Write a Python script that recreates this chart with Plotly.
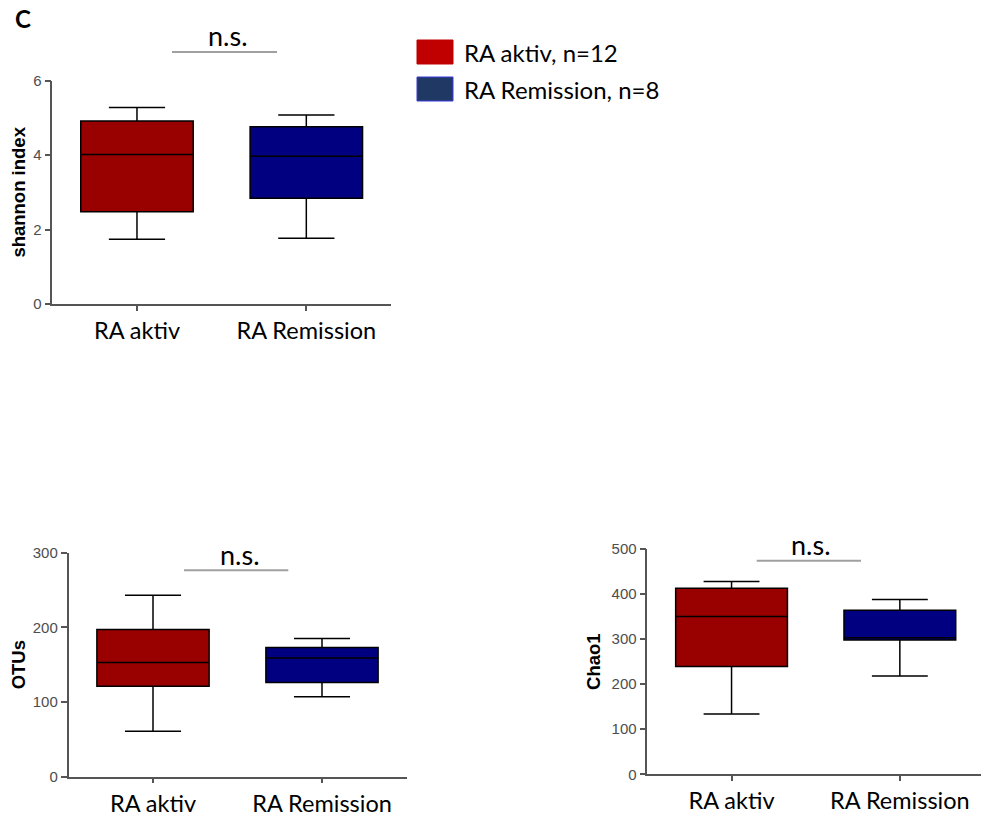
import plotly.graph_objects as go

# ---------------- data ----------------
categories = ["RA aktiv", "RA Remission"]
box_colors = ["#990000", "#000080"]

shannon_lower = [1.74, 1.77]
shannon_q1 = [2.48, 2.84]
shannon_median = [4.02, 3.97]
shannon_q3 = [4.92, 4.76]
shannon_upper = [5.28, 5.08]

otus_lower = [61, 107]
otus_q1 = [121, 126]
otus_median = [153, 159]
otus_q3 = [197, 173]
otus_upper = [243, 185]

chao1_lower = [134, 218]
chao1_q1 = [239, 298]
chao1_median = [350, 303]
chao1_q3 = [413, 364]
chao1_upper = [428, 388]

legend_labels = ["RA aktiv, n=12", "RA Remission, n=8"]
legend_colors = ["#C00000", "#203864"]
legend_borders = ["#C00000", "#3B3BD9"]

panels = [
    # (axis suffix, title, lower, q1, median, q3, upper, ymax, dtick)
    ("", "shannon index", shannon_lower, shannon_q1, shannon_median, shannon_q3, shannon_upper, 6, 2),
    ("2", "OTUs", otus_lower, otus_q1, otus_median, otus_q3, otus_upper, 300, 100),
    ("3", "Chao1", chao1_lower, chao1_q1, chao1_median, chao1_q3, chao1_upper, 500, 100),
]

W, H = 989, 818
OFF = 8  # page body margin offset of the figure in the browser window
SANS = "Liberation Sans, Arial, sans-serif"
HUMAN = "Lato, Open Sans, sans-serif"
AXC = "#555555"

fig = go.Figure()

for suf, title, lo, q1, med, q3, up, ymax, dt in panels:
    for i, cat in enumerate(categories):
        fig.add_trace(go.Box(
            x=[cat], lowerfence=[lo[i]], q1=[q1[i]], median=[med[i]],
            q3=[q3[i]], upperfence=[up[i]],
            fillcolor=box_colors[i], line=dict(color="black", width=1.5),
            width=0.664, whiskerwidth=0.5, boxpoints=False,
            showlegend=False, xaxis="x" + suf, yaxis="y" + suf,
        ))

# window-pixel positions -> paper fractions
def fx(a):
    return (a - OFF) / W

def fy(a):
    return (H - (a - OFF)) / H

domains = {
    "": ([fx(52.3), fx(391)], [fy(304), fy(80.7)]),
    "2": ([fx(68.5), fx(406.5)], [fy(776.7), fy(552.7)]),
    "3": ([fx(647.4), fx(984)], [fy(774.3), fy(549)]),
}

layout = dict(
    width=W, height=H, margin=dict(l=0, r=0, t=0, b=0, autoexpand=False),
    paper_bgcolor="white", plot_bgcolor="white",
    showlegend=False, boxmode="overlay",
)

for suf, title, lo, q1, med, q3, up, ymax, dt in panels:
    dx, dy = domains[suf]
    layout["xaxis" + suf] = dict(
        domain=dx, anchor="y" + suf, type="category", automargin=False,
        categoryorder="array", categoryarray=categories,
        range=[-0.5, 1.5], showline=True, linecolor=AXC, linewidth=1.5,
        ticks="outside", ticklen=5, tickwidth=1.5, tickcolor=AXC,
        showgrid=False, zeroline=False, ticklabelstandoff=0,
        tickfont=dict(family=HUMAN, size=23.5, color="black"),
    )
    layout["yaxis" + suf] = dict(
        domain=dy, anchor="x" + suf, range=[0, ymax], dtick=dt, tick0=0,
        automargin=False,
        showline=True, linecolor=AXC, linewidth=1.5,
        ticks="outside", ticklen=6, tickwidth=1.5, tickcolor=AXC,
        showgrid=False, zeroline=False,
        tickfont=dict(family=SANS, size=15, color="#4d4d4d"),
        title=dict(text=title, standoff=6,
                   font=dict(family=SANS, size=18.5, color="black", weight="bold")),
    )

fig.update_layout(**layout)

# significance brackets (positions relative to each subplot domain)
brackets = [
    ("", 0.3534, 0.6634, 1.1285, 0.519, 1.2046),
    ("2", 0.3417, 0.6503, 0.9214, 0.506, 0.992),
    ("3", 0.3247, 0.6346, 0.948, 0.486, 1.020),
]
for suf, x0, x1, yl, xt, yt in brackets:
    xr = ("x" + suf if suf else "x") + " domain"
    yr = ("y" + suf if suf else "y") + " domain"
    fig.add_shape(type="line", xref=xr, yref=yr, x0=x0, x1=x1, y0=yl, y1=yl,
                  line=dict(color="#a0a0a0", width=2))
    fig.add_annotation(xref=xr, yref=yr, x=xt, y=yt, text="n.s.", showarrow=False,
                       xanchor="center", yanchor="middle",
                       font=dict(family=HUMAN, size=27, color="black"))

# panel letter
fig.add_annotation(xref="paper", yref="paper", x=fx(22.5), y=fy(18.5), text="C",
                   showarrow=False, xanchor="center", yanchor="middle",
                   font=dict(family=HUMAN, size=24, color="black", weight="bold"))

# custom legend
leg_rows = [(40, 64), (77, 101)]
for (top, bot), lab, col, bcol in zip(leg_rows, legend_labels, legend_colors, legend_borders):
    fig.add_shape(type="rect", xref="paper", yref="paper",
                  x0=fx(417), x1=fx(453), y0=fy(bot), y1=fy(top),
                  fillcolor=col, line=dict(color=bcol, width=1))
    fig.add_annotation(xref="paper", yref="paper", x=fx(462), y=fy((top + bot) / 2),
                       text=lab, showarrow=False, xanchor="left", yanchor="middle",
                       font=dict(family=HUMAN, size=24, color="black"))

fig.write_html("out.html")
